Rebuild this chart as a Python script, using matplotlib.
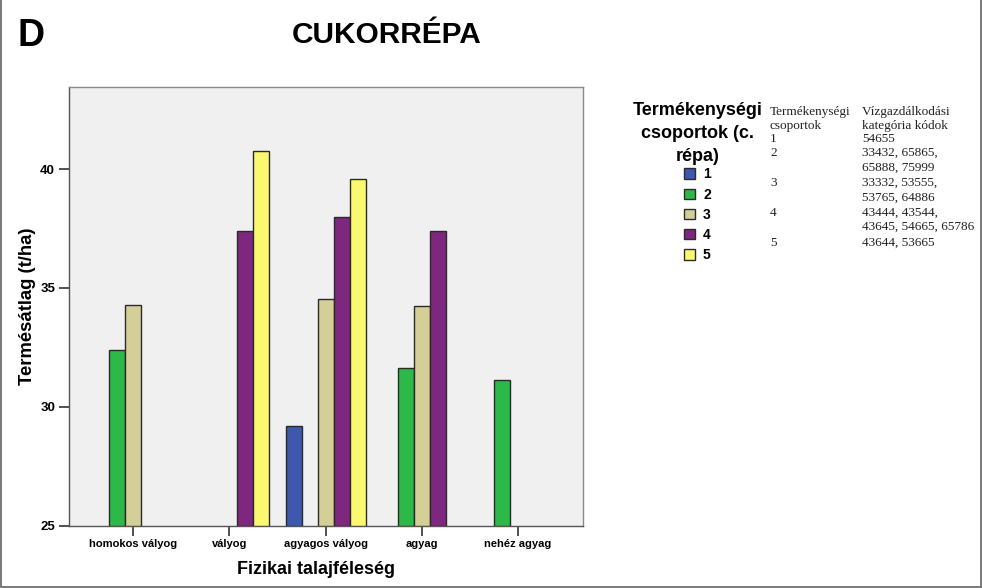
import numpy as np
import matplotlib
matplotlib.use("Agg")
import matplotlib.pyplot as plt
from matplotlib.lines import Line2D

plt.rcParams['font.family'] = ['Liberation Sans', 'DejaVu Sans']

# ---- data ----
categories = ["homokos vályog", "vályog", "agyagos vályog", "agyag", "nehéz agyag"]
groups = ["1", "2", "3", "4", "5"]
g1 = [np.nan, np.nan, 29.17, np.nan, np.nan]
g2 = [32.40, np.nan, np.nan, 31.65, 31.14]
g3 = [34.27, np.nan, 34.54, 34.26, np.nan]
g4 = [np.nan, 37.38, 37.99, 37.40, np.nan]
g5 = [np.nan, 40.75, 39.59, np.nan, np.nan]
series = [g1, g2, g3, g4, g5]
colors = ["#3D58AC", "#2DB84A", "#D4CF97", "#7E277E", "#FAF870"]
yticks = [25, 30, 35, 40]

title = "CUKORRÉPA"
panel = "D"
ylabel = "Termésátlag (t/ha)"
xlabel = "Fizikai talajféleség"
legend_title = "Termékenységi\ncsoportok (c.\nrépa)"
table_header = [("Termékenységi", "Vízgazdálkodási"), ("csoportok", "kategória kódok")]
table_groups = ["1", "2", "3", "4", "5"]
table_codes = [["54655"],
               ["33432, 65865,", "65888, 75999"],
               ["33332, 53555,", "53765, 64886"],
               ["43444, 43544,", "43645, 54665, 65786"],
               ["43644, 53665"]]

# ---- figure ----
W, H = 982, 588
fig = plt.figure(figsize=(W / 100, H / 100), dpi=100)
fig.patch.set_facecolor("white")

def fx(px):
    return px / W

def fy(py):
    return 1 - py / H

ax = fig.add_axes([fx(69), fy(525.5), fx(583) - fx(69), fy(87.3) - fy(525.5)])
ax.set_facecolor("#F0F0F0")

x = np.arange(len(categories))
bw = 16 / 96.2
base = 25
for i, (vals, c, g) in enumerate(zip(series, colors, groups)):
    v = np.array(vals, dtype=float)
    m = ~np.isnan(v)
    ax.bar(x[m] + (i - 2) * bw, v[m] - base, bottom=base, width=bw,
           color=c, edgecolor="#2a2a2a", linewidth=1.0, label=g, zorder=3)

ax.set_ylim(25, 43.45)
ax.set_xlim(-0.668, 4.675)
ax.set_yticks(yticks)
ax.set_yticklabels([str(t) for t in yticks], fontsize=9.5, fontweight="bold")
ax.set_xticks(x)
ax.set_xticklabels(categories, fontsize=8, fontweight="bold")
ax.tick_params(axis="both", direction="out", length=7, width=1.2, color="#333333", pad=3)
for s in ax.spines.values():
    s.set_color("#8a8a8a")
    s.set_linewidth(1.0)
ax.spines["left"].set_color("#555555")
ax.spines["bottom"].set_color("#555555")
ax.set_ylabel(ylabel, fontsize=13.3, fontweight="bold")
ax.set_xlabel(xlabel, fontsize=13, fontweight="bold")
ax.yaxis.set_label_coords((36 - 69) / 514, 0.5)
ax.xaxis.set_label_coords((316 - 69) / 514, -(561 - 525.5) / 438.2)

# titles
fig.text(fx(387), fy(35), title, fontsize=21.5, fontweight="bold", ha="center", va="center")
fig.text(fx(17), fy(36), panel, fontsize=27, fontweight="bold", ha="left", va="center")

# legend
handles, labels = ax.get_legend_handles_labels()
leg = fig.legend(handles, labels, title=legend_title, loc="upper center",
                 bbox_to_anchor=(fx(697.5), fy(95)), frameon=False,
                 prop={"size": 10, "weight": "bold"},
                 title_fontproperties={"size": 13, "weight": "bold"},
                 handlelength=0.75, handleheight=0.75, handletextpad=0.6,
                 labelspacing=0.45, borderpad=0)
leg.get_title().set_multialignment("center")
leg.get_title().set_linespacing(1.45)
leg._legend_box.align = "center"
leg._legend_box.sep = 2
for h in leg.legend_handles:
    h.set_edgecolor("#2a2a2a")
    h.set_linewidth(1.0)

# table text
serif = ["Liberation Serif", "DejaVu Serif"]
c1, c2 = 770, 862
yy = 112
step = 14.2
for a, b in table_header:
    fig.text(fx(c1), fy(yy), a, fontsize=9.5, family=serif, va="center", color="#222222")
    fig.text(fx(c2), fy(yy), b, fontsize=9.5, family=serif, va="center", color="#222222")
    yy += 13.5
for k, (g, codes) in enumerate(zip(table_groups, table_codes)):
    if k > 1:
        yy += 1.5
    fig.text(fx(c1), fy(yy), g, fontsize=9.5, family=serif, va="center", color="#222222")
    for line in codes:
        fig.text(fx(c2), fy(yy), line, fontsize=9.5, family=serif, va="center", color="#222222")
        yy += step

# outer border (left, right, bottom)
bc = "#7a7a7a"
fig.add_artist(Line2D([fx(0.8), fx(0.8)], [fy(0), fy(586.5)], color=bc, lw=1.4))
fig.add_artist(Line2D([fx(980.5), fx(980.5)], [fy(0), fy(586.5)], color=bc, lw=1.4))
fig.add_artist(Line2D([fx(0.8), fx(980.5)], [fy(586.5), fy(586.5)], color=bc, lw=1.4))

fig.savefig("out.png", dpi=100, facecolor="white")
